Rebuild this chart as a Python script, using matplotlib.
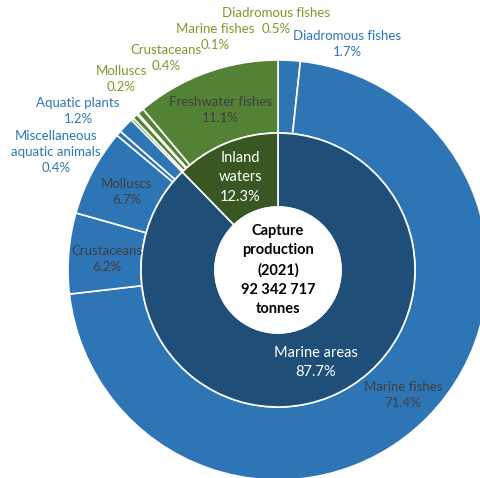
import matplotlib

matplotlib.use("Agg")
import matplotlib.pyplot as plt
import numpy as np

# inner ring: environment
INNER_LABELS = ["Marine areas", "Inland\nwaters"]
INNER_VALUES = [87.7, 12.3]

# outer ring: species group, clockwise from 12 o'clock
OUTER_LABELS = ["Diadromous fishes", "Marine fishes", "Crustaceans", "Molluscs",
                "Miscellaneous\naquatic animals", "Aquatic plants",
                "Molluscs", "Crustaceans", "Marine fishes", "Diadromous fishes",
                "Freshwater fishes"]
OUTER_VALUES = [1.7, 71.4, 6.2, 6.7, 0.4, 1.2, 0.2, 0.4, 0.1, 0.5, 11.1]
OUTER_GROUP = [0, 0, 0, 0, 0, 0, 1, 1, 1, 1, 1]  # 0 = marine, 1 = inland

CENTER_TEXT = "Capture\nproduction\n(2021)\n92 342 717\ntonnes"

BLUE, BLUE_DK = "#2E75B6", "#1F4E79"
GREEN, GREEN_DK = "#548235", "#385723"
GREEN_TXT, INK_IN = "#7B9A2A", "#404040"

W, H = 481, 478
CX, CY = 278, H - 270
R_OUT, R_MID, R_IN = 210, 137, 63

plt.rcParams["font.family"] = ["Lato", "DejaVu Sans"]
fig = plt.figure(figsize=(W / 100, H / 100), dpi=100)
ax = fig.add_axes([0, 0, 1, 1])

outer_cols = [BLUE if g == 0 else GREEN for g in OUTER_GROUP]
ax.pie(OUTER_VALUES, radius=R_OUT, center=(CX, CY), startangle=90, counterclock=False,
       colors=outer_cols, wedgeprops=dict(width=R_OUT - R_MID, edgecolor="white", linewidth=1.2))
ax.pie(INNER_VALUES, radius=R_MID, center=(CX, CY), startangle=90, counterclock=False,
       colors=[BLUE_DK, GREEN_DK], wedgeprops=dict(width=R_MID - R_IN, edgecolor="white", linewidth=1.2))
ax.add_patch(plt.Circle((CX, CY), R_IN, color="white", zorder=5))

ax.set_xlim(0, W)
ax.set_ylim(0, H)
ax.set_aspect("equal")
ax.axis("off")


def mid_angles(vals):
    v = np.asarray(vals, float)
    cum = np.cumsum(v) / v.sum()
    mid = cum - v / v.sum() / 2
    return np.deg2rad(mid * 360)  # clockwise from top


# inside labels on the big outer wedges
ang_out = mid_angles(OUTER_VALUES)
r_lab = (R_OUT + R_MID) / 2
for i, (lab, val) in enumerate(zip(OUTER_LABELS, OUTER_VALUES)):
    if val < 5:
        continue
    x, y = CX + r_lab * np.sin(ang_out[i]), CY + r_lab * np.cos(ang_out[i])
    ax.text(x + 2, y - 3, f"{lab}\n{val}%", ha="center", va="center", fontsize=9.5,
            color=INK_IN, linespacing=1.45)

# inner ring labels
ang_in = mid_angles(INNER_VALUES)
for i, (lab, val) in enumerate(zip(INNER_LABELS, INNER_VALUES)):
    x, y = CX + 100 * np.sin(ang_in[i]), CY + 100 * np.cos(ang_in[i])
    ax.text(x, y, f"{lab}\n{val}%", ha="center", va="center", fontsize=10.5,
            color="white", linespacing=1.5)

# outside labels for the thin wedges (hand placed, like the original);
# name and percent drawn as separate lines, 16 px apart
OUT_POS = {0: (347, 44), 4: (56, 152), 5: (78, 111), 6: (121, 79),
           7: (166, 58), 8: (215, 37), 9: (276, 21)}
for i, (px, py) in OUT_POS.items():
    col = BLUE if OUTER_GROUP[i] == 0 else GREEN_TXT
    lines = OUTER_LABELS[i].split("\n") + [f"{OUTER_VALUES[i]}%"]
    top = py - 8 * (len(lines) - 1)
    for k, line in enumerate(lines):
        ax.text(px, H - (top + 16 * k), line, ha="center", va="center",
                fontsize=9.5, color=col)

ax.text(CX, CY, CENTER_TEXT, ha="center", va="center", fontsize=10.5, fontweight="bold",
        color="black", linespacing=1.5, zorder=6)

fig.savefig("out.png", dpi=100, facecolor="white")
